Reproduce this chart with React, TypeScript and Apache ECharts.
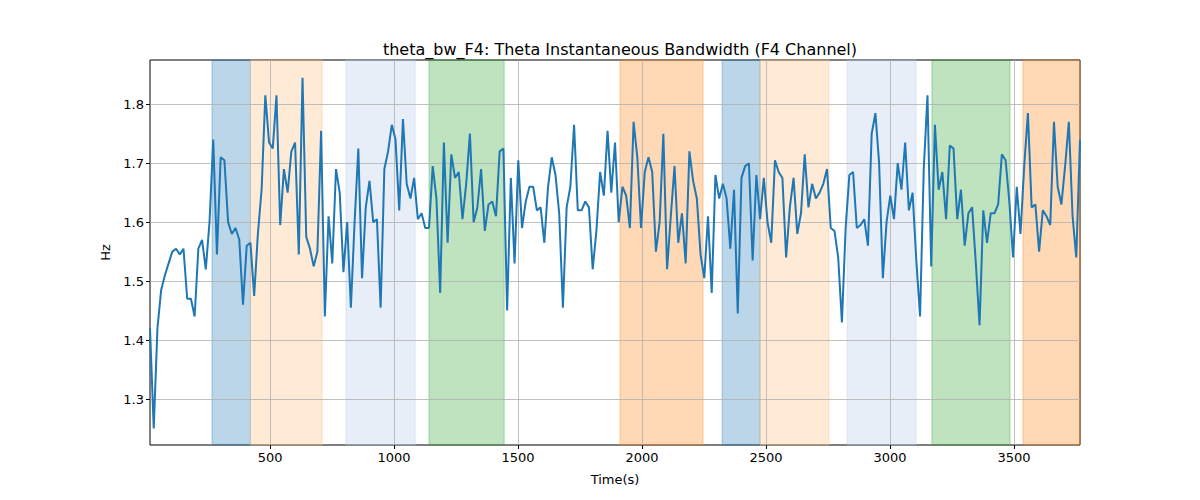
import React, { useEffect, useRef } from 'react';
import * as echarts from 'echarts';

const t0 = 16;
const dt = 15;

const values = [
  1.42, 1.25, 1.42, 1.485, 1.51, 1.53, 1.55, 1.555, 1.545, 1.555, 1.47, 1.47, 1.44, 1.555, 1.57, 1.52, 1.6, 1.74, 1.545, 1.71,
  1.705, 1.6, 1.58, 1.59, 1.57, 1.46, 1.56, 1.565, 1.475, 1.58, 1.655, 1.815, 1.735, 1.725, 1.815, 1.595, 1.69, 1.65, 1.72, 1.735,
  1.545, 1.845, 1.575, 1.555, 1.525, 1.55, 1.755, 1.44, 1.61, 1.53, 1.69, 1.65, 1.515, 1.6, 1.455, 1.6, 1.725, 1.505, 1.625, 1.67,
  1.6, 1.605, 1.455, 1.69, 1.72,
  1.765, 1.74, 1.62, 1.775, 1.665, 1.64, 1.675, 1.605, 1.615, 1.59, 1.59, 1.695, 1.64, 1.48, 1.735, 1.565, 1.715, 1.675, 1.685, 1.605,
  1.665, 1.75, 1.6, 1.625, 1.69, 1.585, 1.63, 1.635, 1.61, 1.72, 1.725, 1.45, 1.675, 1.53, 1.705, 1.59, 1.635, 1.66, 1.66, 1.62,
  1.625, 1.565, 1.66, 1.71, 1.68, 1.615, 1.455, 1.625, 1.66, 1.765, 1.62, 1.62, 1.635, 1.625, 1.52, 1.585, 1.685, 1.645, 1.755, 1.65,
  1.735, 1.6,
  1.66, 1.645, 1.59, 1.77, 1.71, 1.59, 1.685, 1.71, 1.685, 1.55, 1.6, 1.75, 1.52, 1.61, 1.695, 1.565, 1.615, 1.53, 1.72, 1.67,
  1.64, 1.545, 1.505, 1.61, 1.48, 1.68, 1.64, 1.665, 1.64, 1.555, 1.655, 1.445, 1.675, 1.695, 1.7, 1.535, 1.68, 1.605, 1.675, 1.6,
  1.565, 1.705, 1.685, 1.675, 1.54, 1.625, 1.675, 1.58, 1.615, 1.715, 1.625, 1.665, 1.64, 1.65, 1.665, 1.69, 1.59, 1.585, 1.54, 1.43,
  1.59, 1.68,
  1.685, 1.59, 1.595, 1.605, 1.56, 1.75, 1.785, 1.7, 1.505, 1.6, 1.645, 1.605, 1.7, 1.655, 1.735, 1.62, 1.65, 1.535, 1.44, 1.69,
  1.815, 1.525, 1.765, 1.655, 1.685, 1.605, 1.73, 1.725, 1.605, 1.655, 1.56, 1.615, 1.625, 1.53, 1.425, 1.62, 1.565, 1.615, 1.615, 1.63,
  1.715, 1.705, 1.635, 1.54, 1.66, 1.58, 1.695, 1.785, 1.625, 1.63, 1.55, 1.62, 1.61, 1.595, 1.77, 1.66, 1.63, 1.695, 1.77, 1.61,
  1.54, 1.74,
];

const xTicks = [500, 1000, 1500, 2000, 2500, 3000, 3500];
const yTicks = [1.3, 1.4, 1.5, 1.6, 1.7, 1.8];

// [start, end, fill, edge]
const bands: [number, number, string, string][] = [
  [266, 421, 'rgba(31,119,180,0.3)', 'rgba(31,119,180,0.35)'],
  [421, 710, 'rgba(255,187,120,0.3)', 'rgba(255,187,120,0.35)'],
  [806, 1085, 'rgba(174,199,232,0.3)', 'rgba(174,199,232,0.35)'],
  [1141, 1444, 'rgba(44,160,44,0.3)', 'rgba(44,160,44,0.35)'],
  [1911, 2246, 'rgba(255,127,14,0.3)', 'rgba(255,127,14,0.35)'],
  [2323, 2476, 'rgba(31,119,180,0.3)', 'rgba(31,119,180,0.35)'],
  [2476, 2754, 'rgba(255,187,120,0.3)', 'rgba(255,187,120,0.35)'],
  [2827, 3105, 'rgba(174,199,232,0.3)', 'rgba(174,199,232,0.35)'],
  [3169, 3484, 'rgba(44,160,44,0.3)', 'rgba(44,160,44,0.35)'],
  [3536, 3766, 'rgba(255,127,14,0.3)', 'rgba(255,127,14,0.35)'],
];

const xMin = 16;
const xMax = 3766;
const yMin = 1.222;
const yMax = 1.875;

const App: React.FC = () => {
  const chartRef = useRef<HTMLDivElement>(null);

  useEffect(() => {
    if (!chartRef.current) return;
    const chart = echarts.init(chartRef.current, undefined, { renderer: 'svg' });
    const font = 'DejaVu Sans';
    const gridLine = { color: '#b0b0b0', width: 0.8, type: 'solid' as const };

    chart.setOption({
      animation: false,
      textStyle: { fontFamily: font },
      title: {
        text: 'theta_bw_F4: Theta Instantaneous Bandwidth (F4 Channel)',
        left: 615,
        top: 36,
        textAlign: 'center',
        textStyle: { fontSize: 16, fontWeight: 'normal', color: '#000', fontFamily: font },
      },
      grid: { left: 150, right: 120, top: 60, bottom: 55, show: true, borderColor: '#000', borderWidth: 1, backgroundColor: 'transparent' },
      xAxis: {
        type: 'value',
        min: xMin,
        max: xMax,
        name: 'Time(s)',
        nameLocation: 'middle',
        nameGap: 28,
        nameTextStyle: { fontSize: 13, color: '#000' },
        axisLine: { show: false },
        splitLine: { show: false },
        axisTick: { show: true, customValues: xTicks, lineStyle: { color: '#000' }, length: 4 },
        axisLabel: { customValues: xTicks, color: '#000', fontSize: 13, margin: 6, formatter: (v: number) => String(v) },
      },
      yAxis: {
        type: 'value',
        min: yMin,
        max: yMax,
        name: 'Hz',
        nameLocation: 'middle',
        nameGap: 36,
        nameTextStyle: { fontSize: 13, color: '#000' },
        axisLine: { show: false },
        splitLine: { show: false },
        axisTick: { show: true, customValues: yTicks, lineStyle: { color: '#000' }, length: 4 },
        axisLabel: { customValues: yTicks, color: '#000', fontSize: 13, margin: 6, formatter: (v: number) => v.toFixed(1) },
      },
      series: [
        {
          type: 'line',
          data: [],
          silent: true,
          markArea: {
            silent: true,
            data: bands.map(([a, b, c, e]) => [
              { xAxis: a, itemStyle: { color: c, borderColor: e, borderWidth: 1 } },
              { xAxis: b },
            ]),
          },
          markLine: {
            silent: true,
            symbol: 'none',
            label: { show: false },
            lineStyle: gridLine,
            data: [...xTicks.map((x) => ({ xAxis: x })), ...yTicks.map((y) => ({ yAxis: y }))],
          },
        },
        {
          type: 'line',
          data: values.map((v, i) => [t0 + i * dt, v]),
          showSymbol: false,
          lineStyle: { color: '#1f77b4', width: 2 },
          itemStyle: { color: '#1f77b4' },
          z: 5,
        },
      ],
    });
    return () => chart.dispose();
  }, []);

  return <div ref={chartRef} style={{ position: 'absolute', left: 0, top: 0, width: 1200, height: 500 }} />;
};

export default App;
